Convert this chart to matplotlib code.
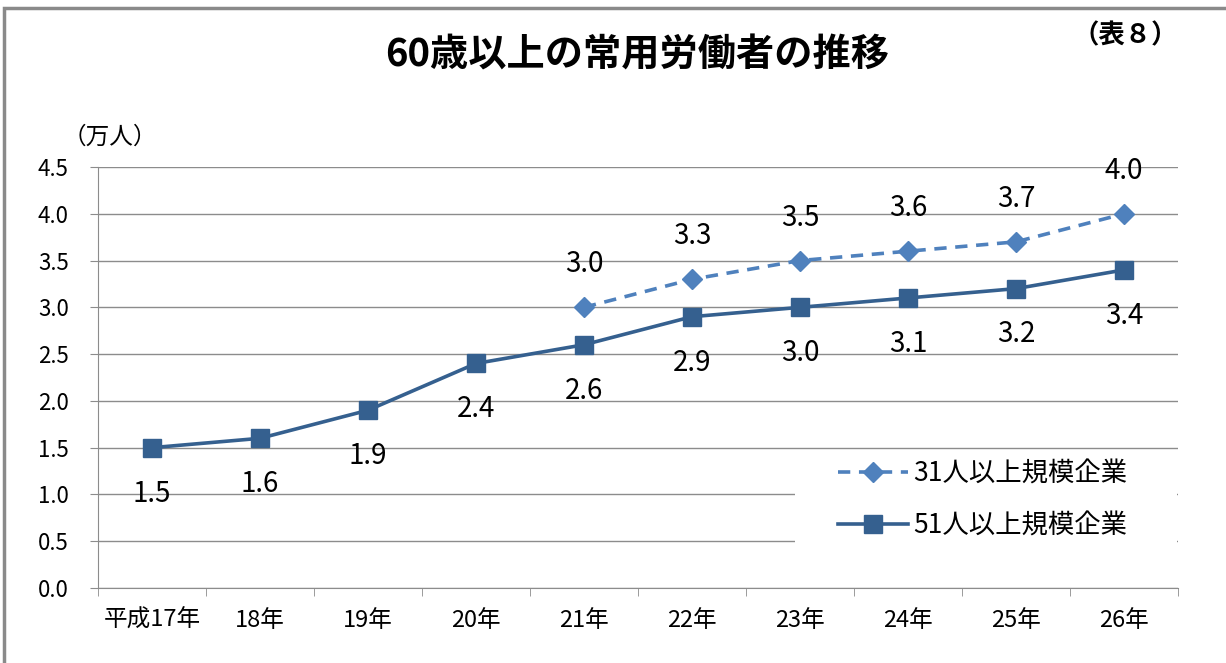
import matplotlib
matplotlib.use("Agg")
import matplotlib.pyplot as plt
from matplotlib.patches import Rectangle
from matplotlib.lines import Line2D

plt.rcParams['font.family'] = ['Noto Sans CJK JP', 'DejaVu Sans']

categories = ["平成17年", "18年", "19年", "20年", "21年", "22年", "23年", "24年", "25年", "26年"]
series31_idx = [4, 5, 6, 7, 8, 9]
series31 = [3.0, 3.3, 3.5, 3.6, 3.7, 4.0]
series51 = [1.5, 1.6, 1.9, 2.4, 2.6, 2.9, 3.0, 3.1, 3.2, 3.4]
label31 = "31人以上規模企業"
label51 = "51人以上規模企業"
yticks = [0.0, 0.5, 1.0, 1.5, 2.0, 2.5, 3.0, 3.5, 4.0, 4.5]

c31 = "#4F81BD"
c51 = "#35608F"
grid_c = "#8C8C8C"
dash = (0, (3.4, 2.4))

fig = plt.figure(figsize=(12.26, 6.63), dpi=100)
fig.patches.append(Rectangle((4/1226, -0.01), 1.02, 1 - 8/663 + 0.01, transform=fig.transFigure,
                             fill=False, edgecolor="#8A8A8A", linewidth=2.5, zorder=0))

ax = fig.add_axes([98/1226, 75/663, 1080/1226, 421/663])
x = list(range(len(categories)))
ax.set_xlim(-0.5, len(categories) - 0.5)
ax.set_ylim(0, 4.5)
ax.set_yticks(yticks)
ax.set_yticklabels([f"{v:.1f}" for v in yticks], fontsize=16)
ax.set_xticks(x)
ax.set_xticklabels(categories, fontsize=17)
ax.set_xticks([i - 0.5 for i in range(len(categories) + 1)], minor=True)
ax.tick_params(axis='x', which='major', length=0, pad=15)
ax.tick_params(axis='x', which='minor', length=6, color=grid_c)
ax.tick_params(axis='y', length=6, color=grid_c, pad=15)
for s in ["top", "right"]:
    ax.spines[s].set_visible(False)
ax.spines["left"].set_color(grid_c)
ax.spines["bottom"].set_color(grid_c)
ax.grid(axis='y', color=grid_c, linewidth=1)
ax.set_axisbelow(True)

ax.plot(x, series51, color=c51, linewidth=2.6, marker='s', markersize=13, label=label51, zorder=3)
ax.plot(series31_idx, series31, color=c31, linewidth=2.6, linestyle=dash, marker='D',
        markersize=10, label=label31, zorder=3)

for xi, v in zip(x, series51):
    ax.annotate(f"{v:.1f}", (xi, v), xytext=(0, -33), textcoords='offset points',
                ha='center', va='center', fontsize=20)
for xi, v in zip(series31_idx, series31):
    ax.annotate(f"{v:.1f}", (xi, v), xytext=(0, 31), textcoords='offset points',
                ha='center', va='center', fontsize=20)

# legend background (white box hiding gridlines)
ax.add_patch(Rectangle((795/1226, 1 - 547/663), 382/1226, 95/663, transform=fig.transFigure,
                       facecolor='white', edgecolor='none', zorder=1))
h31 = Line2D([], [], color=c31, linewidth=2.6, linestyle=dash, marker='D', markersize=10)
h51 = Line2D([], [], color=c51, linewidth=2.6, marker='s', markersize=13)
leg = ax.legend([h31, h51], [label31, label51], loc='center left',
                bbox_to_anchor=(838/1226, 1 - 500/663), bbox_transform=fig.transFigure,
                fontsize=19, frameon=False,
                handlelength=2.65, labelspacing=0.95, borderpad=0, handletextpad=0.2,
                borderaxespad=0)

fig.text(110/1226, 1 - 137/663, "（万人）", fontsize=17, ha='center', va='center')
fig.text(637/1226, 1 - 55/663, "60歳以上の常用労働者の推移", fontsize=27.5, fontweight='bold',
         ha='center', va='center')
fig.text(1125/1226, 1 - 36/663, "（表８）", fontsize=19, fontweight='bold', ha='center', va='center')

fig.savefig("out.png", dpi=100)
